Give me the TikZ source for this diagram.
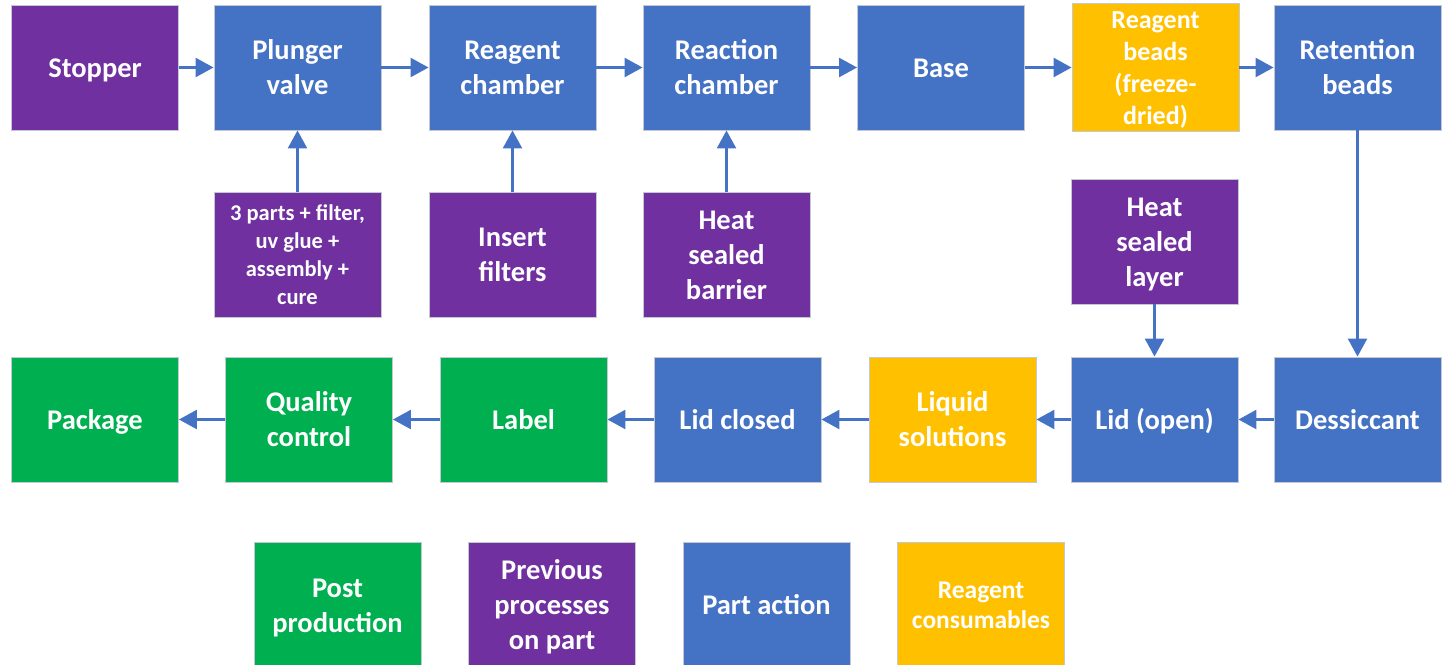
\documentclass[tikz,border=0pt]{standalone}
\usepackage{fontspec}
\setmainfont{Carlito}
\usetikzlibrary{arrows.meta}
\definecolor{cpurple}{HTML}{7030A0}
\definecolor{cblue}{HTML}{4472C4}
\definecolor{cyellow}{HTML}{FFC000}
\definecolor{cgreen}{HTML}{00B050}
\definecolor{cborder}{HTML}{C4C8D0}
% line strut: Word-like line box (baseline at 0.78 of line height)
\newcommand\ls{\rule[-0.22\baselineskip]{0pt}{\baselineskip}}
\tikzset{
  box/.style={draw=cborder, line width=0.9pt, minimum width=167pt, minimum height=125pt,
    inner sep=0pt, align=center, text=white, font=\bfseries\fontsize{28.5}{35}\selectfont},
  purplebox/.style={box, fill=cpurple},
  bluebox/.style={box, fill=cblue},
  yellowbox/.style={box, fill=cyellow},
  greenbox/.style={box, fill=cgreen},
  conn/.style={draw=cblue, line width=2.5pt, -{Triangle[length=18pt,width=19pt]}},
}
\begin{document}
\begin{tikzpicture}[x=1pt,y=-1pt]
\useasboundingbox (0,0) rectangle (1448,664);
% Row 1
\node[purplebox] (stopper) at (95,67.5) {\ls Stopper};
\node[bluebox] (plunger) at (297.5,67.5) {\ls Plunger\\\ls valve};
\node[bluebox] (reagentch) at (512.5,67.5) {\ls Reagent\\\ls chamber};
\node[bluebox] (reaction) at (726.5,67.5) {\ls Reaction\\\ls chamber};
\node[bluebox] (base) at (941,67.5) {\ls Base};
\node[yellowbox, font=\bfseries\fontsize{26}{32}\selectfont] (beads) at (1155.5,67.5) {\ls Reagent\\\ls beads\\\ls (freeze-\\\ls dried)};
\node[bluebox] (retention) at (1357.5,67.5) {\ls Retention\\\ls beads};
% Row 2
\node[purplebox, font=\bfseries\fontsize{22.5}{28}\selectfont] (parts) at (297.5,254.5) {\ls 3 parts + filter,\\\ls uv glue +\\\ls assembly +\\\ls cure};
\node[purplebox] (insert) at (512.5,254.5) {\ls Insert\\\ls filters};
\node[purplebox] (barrier) at (726.5,254.5) {\ls Heat\\\ls sealed\\\ls barrier};
\node[purplebox] (layer) at (1154.5,241.5) {\ls Heat\\\ls sealed\\\ls layer};
% Row 3
\node[greenbox] (package) at (95,419.5) {\ls Package};
\node[greenbox] (qc) at (309,419.5) {\ls Quality\\\ls control};
\node[greenbox] (label) at (523.5,419.5) {\ls Label};
\node[bluebox] (lidclosed) at (737.5,419.5) {\ls Lid closed};
\node[yellowbox] (liquid) at (952.5,419.5) {\ls Liquid\\\ls solutions};
\node[bluebox] (lidopen) at (1154.5,419.5) {\ls Lid (open)};
\node[bluebox] (dessiccant) at (1357.5,419.5) {\ls Dessiccant};
% Legend
\node[greenbox] (lpost) at (337.5,605) {\ls Post\\\ls production};
\node[purplebox] (lprev) at (552,605) {\ls Previous\\\ls processes\\\ls on part};
\node[bluebox] (lpart) at (766.5,605) {\ls Part action};
\node[yellowbox, font=\bfseries\fontsize{25.5}{30.5}\selectfont] (lcons) at (981,605) {\ls Reagent\\\ls consumables};
% Connectors
\draw[conn] (stopper) -- (plunger);
\draw[conn] (plunger) -- (reagentch);
\draw[conn] (reagentch) -- (reaction);
\draw[conn] (reaction) -- (base);
\draw[conn] (base) -- (beads);
\draw[conn] (beads) -- (retention);
\draw[conn] (parts) -- (plunger);
\draw[conn] (insert) -- (reagentch);
\draw[conn] (barrier) -- (reaction);
\draw[conn] (retention) -- (dessiccant);
\draw[conn] (layer) -- (lidopen);
\draw[conn] (dessiccant) -- (lidopen);
\draw[conn] (lidopen) -- (liquid);
\draw[conn] (liquid) -- (lidclosed);
\draw[conn] (lidclosed) -- (label);
\draw[conn] (label) -- (qc);
\draw[conn] (qc) -- (package);
\end{tikzpicture}
\end{document}
